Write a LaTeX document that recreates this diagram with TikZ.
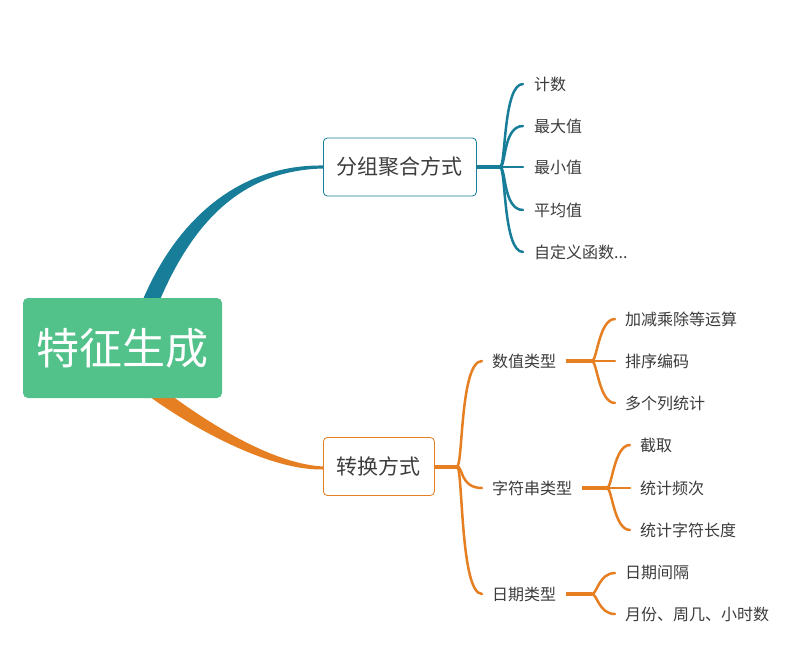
\documentclass[tikz,border=0pt]{standalone}
\usepackage{fontspec}
\setmainfont{Noto Sans CJK SC}
\definecolor{tealc}{RGB}{23,125,152}
\definecolor{orangec}{RGB}{230,126,34}
\definecolor{rootc}{RGB}{82,194,138}
\definecolor{textgray}{RGB}{60,60,60}
\begin{document}
\begin{tikzpicture}[x=1pt,y=-1pt,
  txt/.style={text=textgray, font=\fontsize{16}{19}\selectfont, inner ysep=2pt},
  leafA/.style={txt, anchor=west, inner xsep=11pt},
  leafB/.style={txt, anchor=west, inner xsep=10pt},
  subnode/.style={txt, anchor=west, inner xsep=10pt},
  branchbox/.style={draw, line width=0.8pt, rounded corners=4pt, fill=white,
    text=textgray, font=\fontsize{21}{25}\selectfont, anchor=west,
    minimum height=58pt, inner xsep=13.5pt},
  rootbox/.style={fill=rootc, rounded corners=5pt, text=white,
    font=\fontsize{43}{50}\selectfont, minimum width=199pt, minimum height=100pt},
  tline/.style={draw=tealc, line width=2.5pt, line cap=round},
  tstub/.style={draw=tealc, line width=4pt},
  oline/.style={draw=orangec, line width=2.5pt, line cap=round},
  ostub/.style={draw=orangec, line width=4pt},
  osubstub/.style={draw=orangec, line width=3.2pt},
]
\useasboundingbox (0,0) rectangle (808,660);
\fill[white] (0,0) rectangle (808,660);

% tapered main connectors
\fill[tealc] (140.6,305.1) .. controls (176,218) and (240,164.5) .. (323,165.5)
  -- (323,168.5) .. controls (240,170.5) and (190,224) .. (155.4,310.9) -- cycle;
\fill[orangec] (146.8,394.6) .. controls (191,427) and (268,470.5) .. (323,469.5)
  -- (323,466.5) .. controls (268,463.5) and (199,417) .. (155.2,383.4) -- cycle;

% root
\node[rootbox] (root) at (122.5,348) {特征生成};

% branch boxes
\node[branchbox, draw=tealc] (b1) at (323,167) {分组聚合方式};
\node[branchbox, draw=orangec] (b2) at (323,466.5) {转换方式};

% branch 1 leaves
\node[leafA] (l1) at (523,84) {计数};
\node[leafA] (l2) at (523,126) {最大值};
\node[leafA] (l3) at (523,167) {最小值};
\node[leafA] (l4) at (523,210) {平均值};
\node[leafA] (l5) at (523,252) {自定义函数...};

\coordinate (j1) at (500,167);
\draw[tstub] (b1.east) -- (j1);
\foreach \n in {l1,l2,l4,l5}{
  \draw[tline] (j1) .. controls +(6,0) and +(-20,0) .. (\n.west);
}
\draw[tline] (j1) -- (l3.west);

% branch 2 sub nodes
\node[subnode] (s1) at (482,361) {数值类型};
\node[subnode] (s2) at (482,488) {字符串类型};
\node[subnode] (s3) at (482,594) {日期类型};

\coordinate (j2) at (457,466.5);
\draw[ostub] (b2.east) -- (j2);
\foreach \n in {s1,s2,s3}{
  \draw[oline] (j2) .. controls +(6,0) and +(-22,0) .. (\n.west);
}

% sub 1 leaves
\node[leafB] (n1) at (615,319) {加减乘除等运算};
\node[leafB] (n2) at (615,361) {排序编码};
\node[leafB] (n3) at (615,403) {多个列统计};
\coordinate (k1) at (592,361);
\draw[osubstub] (s1.east) -- (k1);
\draw[oline] (k1) .. controls +(5,0) and +(-16,0) .. (n1.west);
\draw[oline] (k1) -- (n2.west);
\draw[oline] (k1) .. controls +(5,0) and +(-16,0) .. (n3.west);

% sub 2 leaves
\node[leafB] (m1) at (630,445) {截取};
\node[leafB] (m2) at (630,488) {统计频次};
\node[leafB] (m3) at (630,530) {统计字符长度};
\coordinate (k2) at (607,488);
\draw[osubstub] (s2.east) -- (k2);
\draw[oline] (k2) .. controls +(5,0) and +(-16,0) .. (m1.west);
\draw[oline] (k2) -- (m2.west);
\draw[oline] (k2) .. controls +(5,0) and +(-16,0) .. (m3.west);

% sub 3 leaves
\node[leafB] (d1) at (615,573) {日期间隔};
\node[leafB] (d2) at (615,614) {月份、周几、小时数};
\coordinate (k3) at (592,594);
\draw[osubstub] (s3.east) -- (k3);
\draw[oline] (k3) .. controls +(5,0) and +(-16,0) .. (d1.west);
\draw[oline] (k3) .. controls +(5,0) and +(-16,0) .. (d2.west);
\end{tikzpicture}
\end{document}
